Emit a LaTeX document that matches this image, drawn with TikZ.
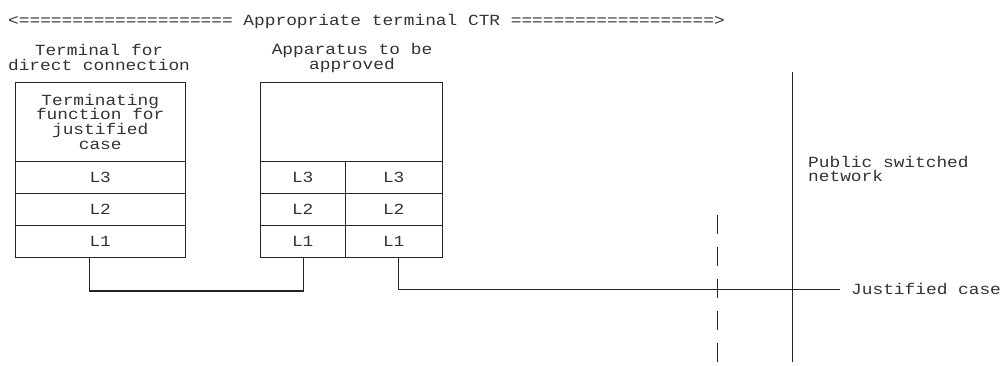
\documentclass[tikz,border=0pt]{standalone}
\usepackage{fontspec}
\setmonofont[FakeStretch=1.15]{Liberation Mono}
\definecolor{ink}{HTML}{333333}
\definecolor{linec}{HTML}{262626}
\begin{document}
\begin{tikzpicture}[x=1pt,y=-1pt,
  font=\ttfamily\fontsize{15.5}{14.8}\selectfont,
  box/.style={draw=linec, line width=1.4pt, inner sep=0pt, anchor=north west, text=ink, align=center},
  wire/.style={draw=linec, line width=1.4pt},
  lbl/.style={text=ink, inner sep=0pt}]
\useasboundingbox (0,0) rectangle (1002,365);
% title
\node[lbl, anchor=base west] (title) at (8,25) {<==================== Appropriate terminal CTR ===================>};
% labels above boxes
\node[lbl, align=center] (t1lab) at (99,57.5) {Terminal for\\direct connection};
\node[lbl, align=center] (t2lab) at (352,58) {Apparatus to be\\approved};
% box 1
\node[box, minimum width=170pt, minimum height=79pt] (b1top) at (14.5,81.5) {Terminating\\function for\\justified\\case};
\node[box, minimum width=170pt, minimum height=32pt] (b1L3) at (14.5,160.5) {L3};
\node[box, minimum width=170pt, minimum height=32pt] (b1L2) at (14.5,192.5) {L2};
\node[box, minimum width=170pt, minimum height=32pt] (b1L1) at (14.5,224.5) {L1};
% box 2
\node[box, minimum width=182pt, minimum height=79pt] (b2top) at (259.5,81.5) {};
\node[box, minimum width=85pt, minimum height=32pt] (b2L3) at (259.5,160.5) {L3};
\node[box, minimum width=85pt, minimum height=32pt] (b2L2) at (259.5,192.5) {L2};
\node[box, minimum width=85pt, minimum height=32pt] (b2L1) at (259.5,224.5) {L1};
\node[box, minimum width=97pt, minimum height=32pt] (b2R3) at (344.5,160.5) {L3};
\node[box, minimum width=97pt, minimum height=32pt] (b2R2) at (344.5,192.5) {L2};
\node[box, minimum width=97pt, minimum height=32pt] (b2R1) at (344.5,224.5) {L1};
% network boundaries
\coordinate (psnT) at (792.5,72);
\coordinate (psnB) at (792.5,362);
\coordinate (ctrT) at (717.5,215);
\coordinate (ctrB) at (717.5,362);
\draw[wire] (psnT) -- (psnB);
\draw[wire, dash pattern=on 19pt off 13pt] (ctrT) -- (ctrB);
\node[lbl, align=left, anchor=west] (psn) at (808,169) {Public switched\\network};
% connectors
\coordinate (jend) at (840,289.5);
\draw[wire] ([xshift=-10.5pt]b1L1.south) -- ++(0,33) -| ([xshift=0.5pt]b2L1.south);
\draw[wire] ([xshift=5pt]b2R1.south) |- (jend);
\node[lbl, anchor=base west] (jcase) at (851,294) {Justified case};
\end{tikzpicture}
\end{document}
